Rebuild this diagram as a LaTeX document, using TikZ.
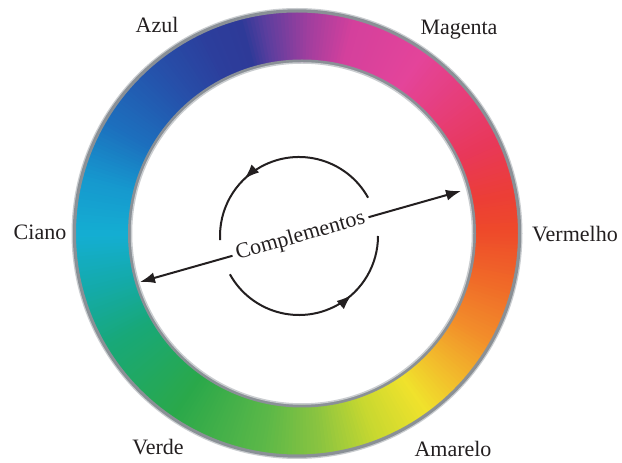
\documentclass[tikz,border=0pt]{standalone}
\usepackage{fontspec}
\setmainfont{Liberation Serif}
\usetikzlibrary{arrows.meta,decorations.markings}
\definecolor{txt}{HTML}{231F20}
\definecolor{ringgray}{HTML}{8A9096}
\definecolor{s01}{HTML}{14AED2}
\definecolor{s02}{HTML}{14AAA8}
\definecolor{s03}{HTML}{18A878}
\definecolor{s04}{HTML}{2AA84A}
\definecolor{s05}{HTML}{5CB848}
\definecolor{s06}{HTML}{8AC440}
\definecolor{s07}{HTML}{C8D830}
\definecolor{s08}{HTML}{F0E22C}
\definecolor{s09}{HTML}{F2C02C}
\definecolor{s10}{HTML}{F28E2A}
\definecolor{s11}{HTML}{F06A28}
\definecolor{s12}{HTML}{EE4A2A}
\definecolor{s13}{HTML}{EC3E36}
\definecolor{s14}{HTML}{E8385A}
\definecolor{s15}{HTML}{E4449A}
\definecolor{s16}{HTML}{D4409C}
\definecolor{s17}{HTML}{A03E9E}
\definecolor{s18}{HTML}{5A3E9E}
\definecolor{s19}{HTML}{2E3A98}
\definecolor{s20}{HTML}{2C3E9C}
\definecolor{s21}{HTML}{2650AA}
\definecolor{s22}{HTML}{1C70BE}
\definecolor{s23}{HTML}{1698CE}
\begin{document}
\begin{tikzpicture}[x=1pt,y=1pt,
  lbl/.style={font=\fontsize{22}{26}\selectfont, text=txt, anchor=base, inner sep=0pt},
  cyc/.style={line width=2pt, draw=txt, postaction={decorate},
    decoration={markings, mark=at position 0.68 with {\arrow{Latex[length=15pt,width=11pt]}}}}]
\useasboundingbox (0,0) rectangle (622,463);
\fill[white] (0,0) rectangle (622,463);
\coordinate (oc) at (297,229.5);
\coordinate (ic) at (302,229.5);
\coordinate (wc) at (299.5,229.5);
\begin{scope}[even odd rule]
\path[clip] (oc) circle (224) (ic) circle (171);
\foreach \a/\b/\ca/\cb in {-180/-165/s01/s02, -165/-150/s02/s03, -150/-125/s03/s04,
  -125/-100/s04/s05, -100/-85/s05/s06, -85/-70/s06/s07, -70/-55/s07/s08,
  -55/-45/s08/s09, -45/-30/s09/s10, -30/-15/s10/s11, -15/0/s11/s12,
  0/10/s12/s13, 10/25/s13/s14, 25/55/s14/s15, 55/75/s15/s16, 75/87/s16/s17,
  87/99/s17/s18, 99/105/s18/s19, 105/115/s19/s20, 115/130/s20/s21,
  130/150/s21/s22, 150/165/s22/s23, 165/180/s23/s01}{
  \pgfmathtruncatemacro\n{\b-\a}
  \pgfmathtruncatemacro\m{\n-1}
  \foreach \t in {0,...,\m}{
    \pgfmathsetmacro\ang{\a+\t}
    \pgfmathsetmacro\angb{\a+\t+1.6}
    \pgfmathsetmacro\p{100*(1-\t/\n)}
    \colorlet{cc}{\ca!\p!\cb}
    \fill[cc] (wc) -- ++(\ang:240) arc[start angle=\ang, end angle=\angb, radius=240] -- cycle;
  }
}
\end{scope}
\draw[ringgray!45, line width=2pt] (oc) circle (224.5);
\draw[ringgray, line width=3.2pt] (oc) circle (222.6);
\draw[ringgray, line width=3.2pt] (ic) circle (172.4);
\draw[ringgray!45, line width=1.5pt] (ic) circle (170.5);
% cycle arrows
\coordinate (cc0) at (299,227);
\draw[cyc] (cc0) ++(29:79) arc[start angle=29, end angle=183, radius=79];
\draw[cyc] (cc0) ++(209:79) arc[start angle=209, end angle=360, radius=79];
% complements arrow
\coordinate (L) at (140,181);
\coordinate (R) at (461,272);
\draw[line width=2pt, draw=txt, {Latex[length=15pt,width=11pt]}-{Latex[length=15pt,width=11pt]}] (L) -- (R)
  node[midway, sloped, fill=white, inner sep=4pt, font=\fontsize{22}{26}\selectfont, text=txt] (comp) {Complementos};
% labels
\node[lbl] (azul) at (157,430) {Azul};
\node[lbl] (magenta) at (459,428) {Magenta};
\node[lbl] (ciano) at (40,223) {Ciano};
\node[lbl] (vermelho) at (575,221) {Vermelho};
\node[lbl] (verde) at (158,8) {Verde};
\node[lbl] (amarelo) at (453,6) {Amarelo};
\end{tikzpicture}
\end{document}
